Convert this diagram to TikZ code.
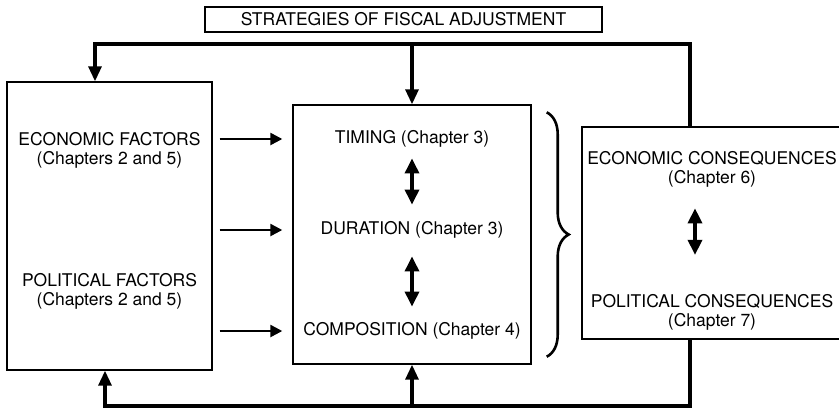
\documentclass[tikz,border=0pt]{standalone}
\usepackage{fontspec}
\setmainfont{TeX Gyre Heros}
\usetikzlibrary{positioning,arrows.meta,decorations.pathreplacing}

\begin{document}
\begin{tikzpicture}[x=0.5pt,y=-0.5pt,
        every node/.style={font=\fontsize{8.75}{9.5}\selectfont, inner sep=0pt},
        box/.style={draw, line width=0.7pt},
        link/.style={line width=1.6pt},
        arr/.style={link, -{Triangle[length=7.5pt,width=6.5pt]}},
        harr/.style={line width=1.2pt, -{Triangle[length=6pt,width=6pt]}, shorten <=3.5pt, shorten >=5pt},
        dbl/.style={line width=1.7pt, {Triangle[length=7.5pt,width=7pt]}-{Triangle[length=7.5pt,width=7pt]}},
        brc/.style={line width=1.3pt, decorate, decoration={brace, amplitude=11pt}}]
        \clip (0,0) rectangle (839,408);
        % boxes
        \node[box, minimum width=198.5pt, minimum height=12.5pt] (title) at (403.5,19.5) {STRATEGIES OF FISCAL ADJUSTMENT};
        \node[box, minimum width=102.5pt, minimum height=144pt] (factors) at (109.5,226) {};
        \node[box, minimum width=119pt, minimum height=129.5pt] (strat) at (412,234.5) {};
        \node[box, minimum width=130.5pt, minimum height=106pt] (cons) at (712.5,233) {};
        % texts
        \node[align=center] (econ) at (109.5,150.5) {ECONOMIC FACTORS\\(Chapters 2 and 5)};
        \node[align=center] (pol) at (109.5,291.5) {POLITICAL FACTORS\\(Chapters 2 and 5)};
        \node (timing) at (412,139) {TIMING (Chapter 3)};
        \node (duration) at (412,230) {DURATION (Chapter 3)};
        \node (composition) at (412,331) {COMPOSITION (Chapter 4)};
        \node[align=center] (econcons) at (712,169) {ECONOMIC CONSEQUENCES\\(Chapter 6)};
        \node[align=center] (polcons) at (712,312) {POLITICAL CONSEQUENCES\\(Chapter 7)};
        % feedback loops
        \coordinate (tr) at (690,44);
        \coordinate (tl) at (95,44);
        \coordinate (br) at (690,406);
        \coordinate (bl) at (105,406);
        \draw[arr] (tr |- cons.north) -- (tr) -- (tl) -- (tl |- factors.north);
        \draw[arr] (strat.north |- tr) -- (strat.north);
        \draw[arr] (br |- cons.south) -- (br) -- (bl) -- (bl |- factors.south);
        \draw[arr] (strat.south |- br) -- (strat.south);
        % factors to strategies
        \draw[harr] (factors.east |- timing) -- (strat.west |- timing);
        \draw[harr] (factors.east |- duration) -- (strat.west |- duration);
        \draw[harr] (factors.east |- composition) -- (strat.west |- composition);
        \draw[dbl, shorten <=5.3pt, shorten >=8.3pt] (timing.south) -- (duration.north);
        \draw[dbl, shorten <=8.8pt, shorten >=7.8pt] (duration.south) -- (composition.north);
        \draw[dbl, shorten <=10.5pt, shorten >=19.4pt] ([xshift=-8.5pt]econcons.south) -- ([xshift=-8.5pt]econcons.south |- polcons.north);
        \draw[brc] ([xshift=7.5pt,yshift=-4pt]strat.north east) -- ([xshift=7.5pt,yshift=4pt]strat.south east);
\end{tikzpicture}
\end{document}
